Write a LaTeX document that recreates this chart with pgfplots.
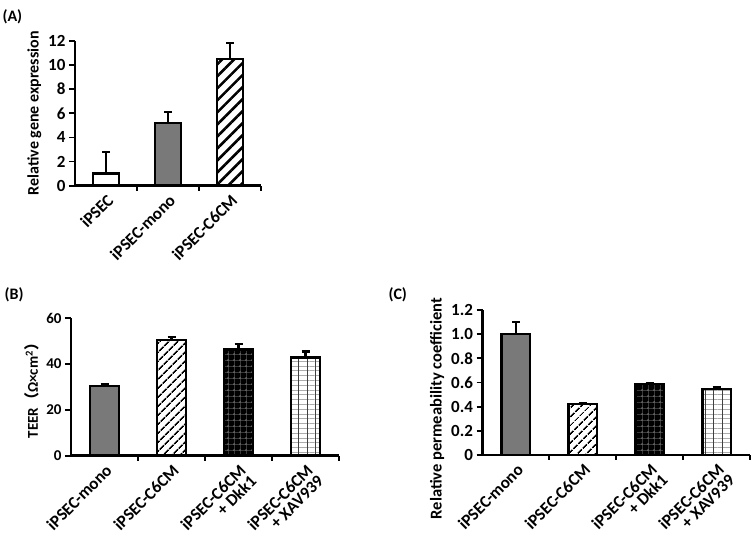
\documentclass[border=0pt]{standalone}
\usepackage{fontspec}
\setmainfont{Carlito}
\newfontfamily\cjk{Noto Sans CJK SC}
\usepackage{pgfplots}
\pgfplotsset{compat=1.18}
\usetikzlibrary{patterns.meta}

\pgfplotsset{
 panel/.style={
  scale only axis,
  axis lines*=left,
  axis line style={line width=2.4pt},
  ymin=0, xmin=-0.5,
  tick align=outside,
  tick style={line width=1.8pt, black},
  major tick length=6pt,
  minor tick length=5pt,
  major x tick style={draw=none},
  /pgf/number format/assume math mode=true,
  x tick label style={rotate=45, anchor=north east, align=right, inner sep=1pt},
  ybar, bar shift=0pt,
  every axis plot/.append style={line width=2.4pt, draw=black},
  error bars/y dir=plus, error bars/y explicit,
  error bars/error bar style={line width=2.2pt, black, solid},
  error bars/error mark options={rotate=90, mark size=4pt, line width=2.2pt, black},
 },
 stripesA/.style={fill=white, postaction={pattern={Lines[angle=45,distance=8.5pt,line width=2.6pt]}}},
 stripesB/.style={fill=white, postaction={pattern={Lines[angle=45,distance=6.5pt,line width=1.8pt]}}},
 dotted black/.style={fill=black, postaction={pattern={Hatch[distance=6pt,line width=0.3pt]}, pattern color=gray!45!black}, postaction={pattern={Dots[distance=6pt,radius=0.55pt]}, pattern color=white!85!black}},
 grid white/.style={fill=white, postaction={pattern={Lines[angle=0,distance=4.8pt,line width=0.9pt]}, pattern color=gray!65}, postaction={pattern={Lines[angle=90,distance=8.3pt,line width=0.9pt]}, pattern color=black!75}},
}

\begin{document}
\begin{tikzpicture}
\path[use as bounding box] (0,0) rectangle (752pt,534pt);

\node[anchor=west, font=\fontsize{16}{16}\selectfont\bfseries] at (-1pt,517pt) {(A)};
\node[anchor=west, font=\fontsize{16}{16}\selectfont\bfseries] at (1pt,239pt) {(B)};
\node[anchor=west, font=\fontsize{16}{16}\selectfont\bfseries] at (385pt,239pt) {(C)};

% Panel A
\begin{axis}[panel, at={(75pt,348.3pt)}, anchor=south west,
  width=186pt, height=144.8pt, xmax=2.5, ymax=12,
  bar width=26pt,
  y tick label style={font=\fontsize{17}{17}\selectfont\bfseries},
  x tick label style={font=\fontsize{17}{17}\selectfont\bfseries},
  ylabel style={font=\fontsize{16}{17}\selectfont\bfseries},
  ytick={0,2,4,6,8,10,12},
  xtick={0,1,2}, xticklabels={iPSEC, iPSEC-mono, iPSEC-C6CM},
  minor xtick={0.5,1.5,2.5},
  ylabel={Relative gene expression}]
\addplot[fill=white] coordinates {(0,1.0) +- (0,1.8)};
\addplot[fill=gray!95!black] coordinates {(1,5.2) +- (0,0.9)};
\addplot[stripesA] coordinates {(2,10.5) +- (0,1.35)};
\end{axis}

% Panel B
\begin{axis}[panel, at={(71pt,78.3pt)}, anchor=south west,
  width=268pt, height=137.4pt, xmax=3.5, ymax=60,
  bar width=29pt,
  y tick label style={font=\fontsize{15}{15}\selectfont\bfseries},
  x tick label style={font=\fontsize{17}{15}\selectfont\bfseries},
  ylabel style={font=\fontsize{15}{15}\selectfont\bfseries},
  ytick={0,20,40,60},
  xtick={0,1,2,3}, xticklabels={iPSEC-mono, iPSEC-C6CM, iPSEC-C6CM\\+ Dkk1, iPSEC-C6CM\\+ XAV939},
  minor xtick={0.5,1.5,2.5,3.5},
  ylabel={TEER{\cjk （}Ω×cm\textsuperscript{2}{\cjk ）}}]
\addplot[fill=gray!95!black] coordinates {(0,30.5) +- (0,0.8)};
\addplot[stripesB] coordinates {(1,50.5) +- (0,1.3)};
\addplot[dotted black] coordinates {(2,46.4) +- (0,2.5)};
\addplot[grid white] coordinates {(3,42.8) +- (0,2.7)};
\end{axis}

% Panel C
\begin{axis}[panel, at={(482.5pt,79pt)}, anchor=south west,
  width=267.5pt, height=145pt, xmax=3.5, ymax=1.2,
  bar width=28.5pt,
  y tick label style={font=\fontsize{17}{17}\selectfont\bfseries},
  x tick label style={font=\fontsize{17}{15}\selectfont\bfseries},
  ylabel style={font=\fontsize{16.5}{17}\selectfont\bfseries, at={(ticklabel cs:0.32)}, anchor=near ticklabel},
  ytick={0,0.2,0.4,0.6,0.8,1.0,1.2},
  yticklabels={0,0.2,0.4,0.6,0.8,1.0,1.2},
  xtick={0,1,2,3}, xticklabels={iPSEC-mono, iPSEC-C6CM, iPSEC-C6CM\\+ Dkk1, iPSEC-C6CM\\+ XAV939},
  minor xtick={0.5,1.5,2.5,3.5},
  ylabel={Relative permeability coefficient}]
\addplot[fill=gray!95!black] coordinates {(0,1.0) +- (0,0.1)};
\addplot[stripesB] coordinates {(1,0.42) +- (0,0.008)};
\addplot[dotted black] coordinates {(2,0.59) +- (0,0.008)};
\addplot[grid white] coordinates {(3,0.546) +- (0,0.012)};
\end{axis}
\end{tikzpicture}
\end{document}
